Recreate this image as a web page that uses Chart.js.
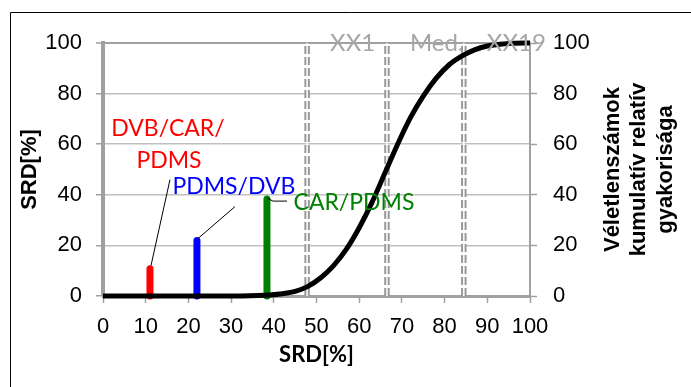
<!DOCTYPE html>
<html>
<head>
<meta charset="utf-8">
<script src="https://cdn.jsdelivr.net/npm/chart.js@4.4.0/dist/chart.umd.min.js"></script>
<style>
	html, body { margin: 0; padding: 0; background: #fff; }
	#wrap { width: 691px; height: 387px; }
</style>
</head>
<body>
<div id="wrap"><canvas id="chart" width="691" height="387"></canvas></div>
<script>
// Cumulative relative frequency of random numbers (x = SRD %, y = %)
const curveX = [0, 30, 38, 42, 45, 48, 51, 54, 57, 60, 63, 66, 69, 72, 75, 78, 81, 84, 87, 90, 93, 96, 100];
const curveY = [0, 0, 0.3, 0.9, 1.8, 3.8, 7.2, 12, 18.5, 27, 37, 48.5, 60, 70.5, 79, 86, 91.3, 94.8, 97.3, 98.8, 99.5, 99.9, 100];

// Percentile marker lines
const markerX = [47.8, 66.5, 84.5];
const markerNames = ["XX1", "Med.", "XX19"];

// Fibres: SRD value drawn as a vertical bar (x = SRD, height = SRD)
const fiberNames = [["DVB/CAR/", "PDMS"], ["PDMS/DVB"], ["CAR/PDMS"]];
const fiberX = [11, 22, 38.4];
const fiberSRD = [10.8, 21.9, 38.3];
const fiberColors = ["#ff0000", "#0000ff", "#008000"];

const yTitleRight = ["Véletlenszámok", "kumulatív relatív", "gyakorisága"];

const tickFont = { family: "'Liberation Sans', Arial, sans-serif", size: 22 };
const labelFamily = "Lato, 'Open Sans', sans-serif";

// leader lines and text spots, in pixels from the bar tip
const fiberLayout = [
	{ leader: [[1, -3], [20, -89]], text: [[18, -140], [19, -108]] },
	{ leader: [[1, -2], [38, -34]], text: [[37, -54]] },
	{ leader: [[0, -1], [6, 2], [20, 2]], text: [[87, 3]] },
];

const annotations = {
	id: "annotations",
	beforeDraw(chart) {
		const ctx = chart.ctx;
		ctx.save();
		ctx.fillStyle = "#fff";
		ctx.fillRect(0, 0, chart.width, chart.height);
		ctx.strokeStyle = "#000";
		ctx.lineWidth = 1;
		ctx.beginPath();
		ctx.moveTo(10.5, chart.height);
		ctx.lineTo(10.5, 12.5);
		ctx.lineTo(chart.width, 12.5);
		ctx.stroke();
		ctx.restore();
	},
	afterDatasetsDraw(chart) {
		const ctx = chart.ctx;
		const xs = chart.scales.x;
		const ys = chart.scales.y;
		const area = chart.chartArea;
		ctx.save();

		// marker names at the top border
		ctx.font = "24px " + labelFamily;
		ctx.fillStyle = "#a6a6a6";
		ctx.textAlign = "left";
		ctx.textBaseline = "middle";
		markerX.forEach((x, i) => {
			ctx.fillText(markerNames[i], xs.getPixelForValue(x) + 23, ys.getPixelForValue(100));
		});

		// fibre labels with leader lines
		ctx.font = "23px " + labelFamily;
		fiberX.forEach((x, i) => {
			const px = xs.getPixelForValue(x);
			const py = ys.getPixelForValue(fiberSRD[i]);
			const lay = fiberLayout[i];
			ctx.strokeStyle = "#000";
			ctx.lineWidth = 1;
			ctx.beginPath();
			lay.leader.forEach((p, k) => {
				if (k === 0) ctx.moveTo(px + p[0], py + p[1]);
				else ctx.lineTo(px + p[0], py + p[1]);
			});
			ctx.stroke();
			ctx.fillStyle = fiberColors[i];
			ctx.textAlign = "center";
			fiberNames[i].forEach((t, k) => {
				ctx.fillText(t, px + lay.text[k][0], py + lay.text[k][1]);
			});
		});

		// axis titles
		ctx.fillStyle = "#000";
		ctx.textAlign = "center";
		ctx.font = "bold 22px " + labelFamily;
		ctx.fillText("SRD[%]", (area.left + area.right) / 2, 355);

		const midY = (area.top + area.bottom) / 2;
		ctx.font = "bold 22px 'Liberation Sans', Arial, sans-serif";
		ctx.save();
		ctx.translate(30, midY);
		ctx.rotate(-Math.PI / 2);
		ctx.fillText("SRD[%]", 0, 0);
		ctx.restore();

		ctx.save();
		ctx.translate(639, midY);
		ctx.rotate(-Math.PI / 2);
		yTitleRight.forEach((t, k) => ctx.fillText(t, 0, (k - 1) * 26.5));
		ctx.restore();

		ctx.restore();
	},
};

const datasets = [
	{
		data: curveX.map((x, i) => ({ x, y: curveY[i] })),
		borderColor: "#000",
		borderWidth: 5,
		cubicInterpolationMode: "monotone",
		order: 0,
		clip: 6,
	},
	...fiberX.map((x, i) => ({
		data: [{ x, y: 0 }, { x, y: fiberSRD[i] }],
		borderColor: fiberColors[i],
		borderWidth: 7,
		borderCapStyle: "round",
		order: 1,
		clip: 6,
	})),
	...markerX.map((x) => ({
		data: [{ x, y: 0 }, { x, y: 100 }],
		borderColor: "#ffffff",
		borderWidth: 1.5,
		order: 2,
	})),
	...markerX.map((x) => ({
		data: [{ x, y: 0 }, { x, y: 100 }],
		borderColor: "#999999",
		borderWidth: 5.5,
		borderDash: [8, 3],
		order: 3,
	})),
];

new Chart(document.getElementById("chart"), {
	type: "line",
	data: { datasets },
	options: {
		responsive: false,
		devicePixelRatio: 1,
		animation: false,
		layout: { padding: { top: 43, left: 0, right: 0, bottom: 0 } },
		elements: { point: { radius: 0 }, line: { tension: 0 } },
		plugins: { legend: { display: false }, tooltip: { enabled: false } },
		scales: {
			x: {
				type: "linear",
				min: 0,
				max: 100,
				ticks: { stepSize: 10, font: tickFont, color: "#000", padding: 11, maxRotation: 0 },
				grid: { drawOnChartArea: false, tickColor: "#a0a0a0", tickLength: 7, tickWidth: 1.5 },
				border: { color: "#a0a0a0", width: 3 },
				afterFit(s) { s.height = 91; },
			},
			y: {
				position: "left",
				min: 0,
				max: 100,
				ticks: { stepSize: 20, font: tickFont, color: "#000", padding: 14 },
				grid: {
					color: (c) => (c.tick && c.tick.value === 100 ? "#a0a0a0" : "#c0c0c0"),
					lineWidth: (c) => (c.tick && c.tick.value === 100 ? 2 : 1.5),
					tickColor: "#a0a0a0",
					tickLength: 7,
					tickWidth: 1.5,
				},
				border: { color: "#a0a0a0", width: 4 },
				afterFit(s) { s.width = 103; },
			},
			y2: {
				position: "right",
				min: 0,
				max: 100,
				ticks: { stepSize: 20, font: tickFont, color: "#000", padding: 16 },
				grid: { drawOnChartArea: false, tickColor: "#a0a0a0", tickLength: 7, tickWidth: 1.5 },
				border: { color: "#a0a0a0", width: 2 },
				afterFit(s) { s.width = 161; },
			},
		},
	},
	plugins: [annotations],
});
</script>
</body>
</html>
